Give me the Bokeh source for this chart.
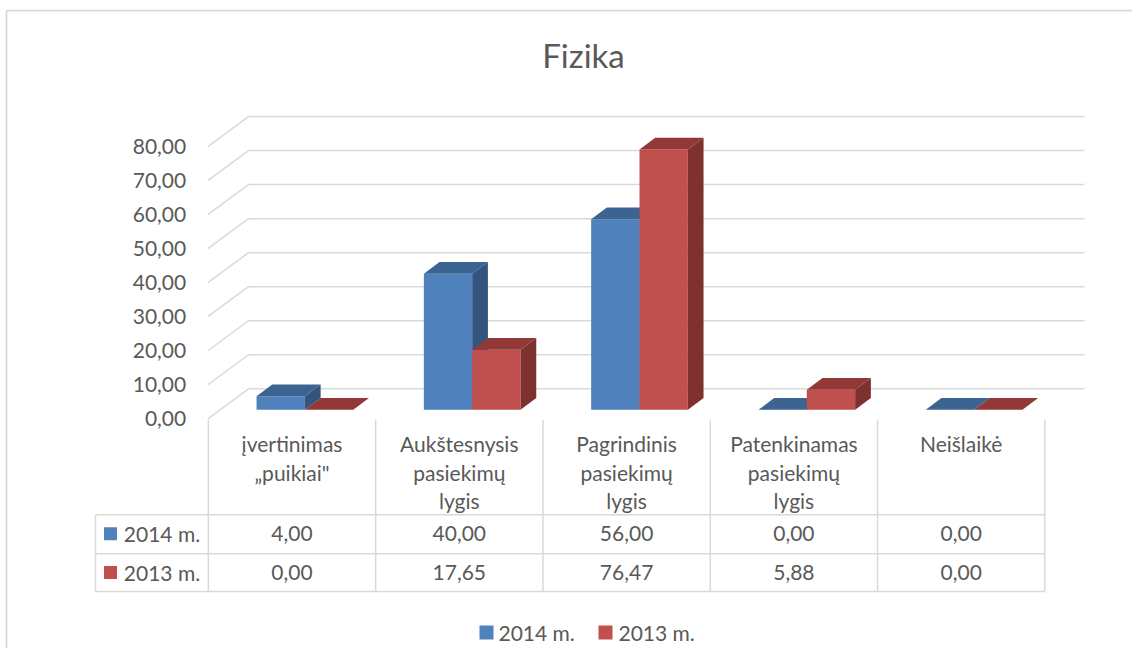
from bokeh.plotting import figure
from bokeh.models import Range1d
from bokeh.embed import file_html
from bokeh.resources import INLINE
from bokeh.core.properties import value

# ---------------- data ----------------
TITLE = "Fizika"
CATEGORIES = [
    "įvertinimas\n„puikiai\"",
    "Aukštesnysis\npasiekimų\nlygis",
    "Pagrindinis\npasiekimų\nlygis",
    "Patenkinamas\npasiekimų\nlygis",
    "Neišlaikė",
]
SERIES = ["2014 m.", "2013 m."]
VALUES_2014 = [4.00, 40.00, 56.00, 0.00, 0.00]
VALUES_2013 = [0.00, 17.65, 76.47, 5.88, 0.00]
Y_TICKS = [0, 10, 20, 30, 40, 50, 60, 70, 80]

# ---------------- styles ----------------
FONT = value("Lato")
TEXT_COLOR = "#595959"
GRID_COLOR = "#D9D9D9"
FRONT = ["#4F81BD", "#C0504D"]
TOP = ["#3C6491", "#923837"]
SIDE = ["#32547D", "#7F3130"]

# ---------------- layout helpers (picture pixels -> data units) ----------------
W, H, OFF = 1132, 648, 0
CX0, CW = 291.5, 167.3      # centre of first category, category width (px)
BASE, KY = 409.3, 3.403     # baseline of bars (px), px per value unit


def X(px):
    return (px - CX0) / CW


def Y(py):
    return (BASE - py) / KY


p = figure(width=W, height=H, x_range=Range1d(X(OFF), X(OFF + W)),
           y_range=Range1d(Y(OFF + H), Y(OFF)), output_backend="svg",
           toolbar_location=None, x_axis_location=None, y_axis_location=None,
           min_border=0, outline_line_color=None, background_fill_color="white")
p.grid.visible = False

# chart border (top-left part visible)
p.line([X(6), X(6), X(1200)], [Y(700), Y(10), Y(10)], line_color=GRID_COLOR, line_width=1.75)

# title
p.text(x=[X(583)], y=[Y(54)], text=[TITLE], text_font=FONT, text_font_size="33px",
       text_color=TEXT_COLOR, text_align="center", text_baseline="middle")

# ---------------- 3D floor / wall gridlines ----------------
FLOOR_FRONT = -9.0 / KY
FLOOR_BACK = 21.0 / KY
XF, XB, XE = X(207.3), X(248), X(1084)
gx, gy = [], []
for t in Y_TICKS:
    gx.append([XF, XB, XE])
    gy.append([t + FLOOR_FRONT, t + FLOOR_BACK, t + FLOOR_BACK])
p.multi_line(gx, gy, line_color=GRID_COLOR, line_width=1.5)

# y tick labels
p.text(x=[X(185.7)] * len(Y_TICKS), y=[t + FLOOR_FRONT for t in Y_TICKS],
       text=[f"{t:.2f}".replace(".", ",") for t in Y_TICKS],
       text_font=FONT, text_font_size="21px", text_color=TEXT_COLOR,
       text_align="right", text_baseline="middle")

# ---------------- 3D bars ----------------
GROUP_SHIFT = 12.9 / CW
BAR_W = 48.35 / CW
DX = 15.7 / CW
DY = 11.7 / KY

for i in range(len(CATEGORIES)):
    for s, vals in enumerate([VALUES_2014, VALUES_2013]):
        v = vals[i]
        left = i + GROUP_SHIFT + (s - 1) * BAR_W
        right = left + BAR_W
        # front face
        p.patch([left, right, right, left], [0, 0, v, v], fill_color=FRONT[s], line_color=None)
        # top face
        p.patch([left, right, right + DX, left + DX], [v, v, v + DY, v + DY],
                fill_color=TOP[s], line_color=None)
        # side face
        if v > 0:
            p.patch([right, right + DX, right + DX, right], [0, DY, v + DY, v],
                    fill_color=SIDE[s], line_color=None)

# ---------------- data table ----------------
T_TOP, R1, R2, T_BOT = Y(419), Y(514.3), Y(553.3), Y(591)
T_LEFT = X(95)
n = len(CATEGORIES)
vx, vy = [], []
for k in range(n + 1):
    vx.append([k - 0.5, k - 0.5])
    vy.append([T_TOP, T_BOT])
vx.append([T_LEFT, T_LEFT])
vy.append([R1, T_BOT])
for r in (R1, R2, T_BOT):
    vx.append([T_LEFT, n - 0.5])
    vy.append([r, r])
p.multi_line(vx, vy, line_color=GRID_COLOR, line_width=1.5)

# header (category names)
hx, hy, ht = [], [], []
for i, cat in enumerate(CATEGORIES):
    for k, line in enumerate(cat.split("\n")):
        hx.append(i)
        hy.append(Y(443 + 28.5 * k))
        ht.append(line)
p.text(x=hx, y=hy, text=ht, text_font=FONT, text_font_size="21px", text_color=TEXT_COLOR,
       text_align="center", text_baseline="middle")

# rows
for s, (name, vals, yc) in enumerate(zip(SERIES, [VALUES_2014, VALUES_2013], [Y(533.3), Y(572)])):
    p.text(x=list(range(n)), y=[yc] * n, text=[f"{v:.2f}".replace(".", ",") for v in vals],
           text_font=FONT, text_font_size="21px", text_color=TEXT_COLOR,
           text_align="center", text_baseline="middle")
    p.rect(x=[X(110)], y=[yc], width=13, height=13, width_units="screen", height_units="screen",
           fill_color=FRONT[s], line_color=None)
    p.text(x=[X(123.3)], y=[yc], text=[name], text_font=FONT, text_font_size="21px",
           text_color=TEXT_COLOR, text_align="left", text_baseline="middle")

# ---------------- legend ----------------
for s, (name, sq, tx) in enumerate(zip(SERIES, [486, 605], [498, 618])):
    p.rect(x=[X(sq)], y=[Y(632)], width=14, height=14, width_units="screen", height_units="screen",
           fill_color=FRONT[s], line_color=None)
    p.text(x=[X(tx)], y=[Y(632)], text=[name], text_font=FONT, text_font_size="21px",
           text_color=TEXT_COLOR, text_align="left", text_baseline="middle")

open("out.html", "w").write(file_html(p, INLINE))
